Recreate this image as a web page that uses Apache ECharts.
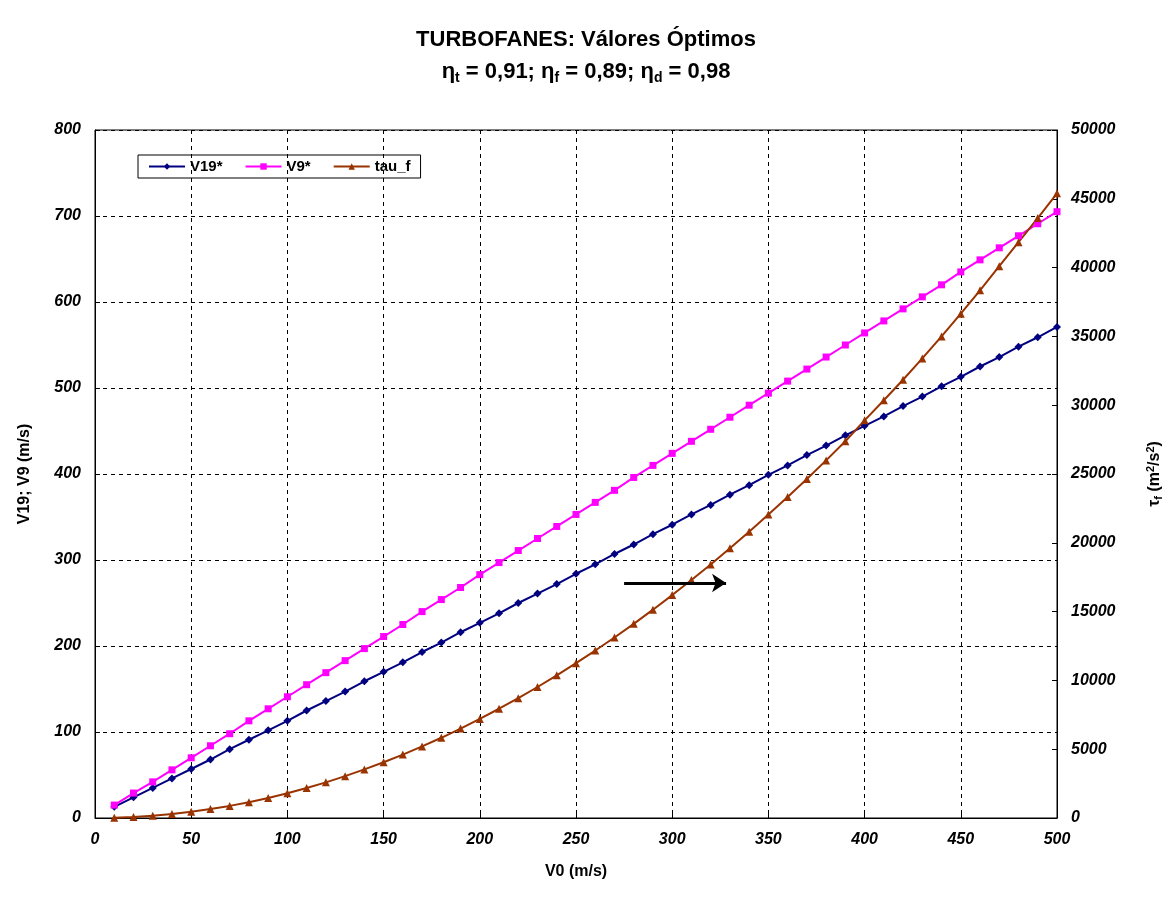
<!DOCTYPE html>
<html lang="es">
<head>
<meta charset="UTF-8">
<title>TURBOFANES</title>
<script src="https://cdn.jsdelivr.net/npm/echarts@6/dist/echarts.min.js"></script>
<style>html,body{margin:0;background:#fff}#main{width:1172px;height:904px}</style>
</head>
<body>
<div id="main"></div>
<script>
var v0 = [10,20,30,40,50,60,70,80,90,100,110,120,130,140,150,160,170,180,190,200,210,220,230,240,250,260,270,280,290,300,310,320,330,340,350,360,370,380,390,400,410,420,430,440,450,460,470,480,490,500];
var v19 = [13,24,35,46,57,68,80,91,102,113,125,136,147,159,170,181,193,204,216,227,238,250,261,272,284,295,307,318,330,341,353,364,376,387,399,410,422,433,445,456,467,479,490,502,513,525,536,548,559,571];
var v9 = [15,29,42,56,70,84,98,113,127,141,155,169,183,197,211,225,240,254,268,283,297,311,325,339,353,367,381,396,410,424,438,452,466,480,494,508,522,536,550,564,578,592,606,620,635,649,663,677,691,705];
var tauF = [20,80,160,290,450,650,880,1150,1460,1800,2180,2590,3040,3530,4050,4610,5200,5830,6500,7200,7940,8710,9520,10370,11250,12170,13120,14110,15140,16200,17300,18430,19600,20810,22050,23330,24640,25990,27380,28900,30360,31850,33400,35000,36650,38350,40100,41850,43600,45400];

function pairs(ys) { return v0.map(function (x, i) { return [x, ys[i]]; }); }

var lbl = { fontFamily: 'Arial', fontWeight: 'bold', fontStyle: 'italic', fontSize: 16, color: '#000', margin: 14 };
var dashed = { show: true, lineStyle: { color: '#000', type: [4, 4], width: 1 } };

var chart = echarts.init(document.getElementById('main'));
chart.setOption({
    animation: false,
    title: {
        left: 'center', top: 24,
        text: 'TURBOFANES: Válores Óptimos',
        subtext: '{a|η}{s|t}{a| = 0,91; η}{s|f}{a| = 0,89; η}{s|d}{a| = 0,98}',
        itemGap: 8,
        textStyle: { fontFamily: 'Arial', fontWeight: 'bold', fontSize: 22, color: '#000' },
        subtextStyle: { rich: {
            a: { fontFamily: 'Arial', fontWeight: 'bold', fontSize: 22, color: '#000' },
            s: { fontFamily: 'Arial', fontWeight: 'bold', fontSize: 14, color: '#000', verticalAlign: 'bottom', padding: [12, 0, 0, 0] }
        } }
    },
    legend: {
        left: 138, top: 155, itemGap: 22, padding: [4, 10],
        borderColor: '#000', borderWidth: 1,
        itemWidth: 36, itemHeight: 8,
        textStyle: { fontFamily: 'Arial', fontWeight: 'bold', fontSize: 15, color: '#000' }
    },
    grid: { left: 95, right: 114, top: 130, bottom: 86, show: true, borderColor: '#000', borderWidth: 1 },
    xAxis: {
        type: 'value', min: 0, max: 500, interval: 50,
        name: 'V0 (m/s)', nameLocation: 'middle', nameGap: 46,
        nameTextStyle: { fontFamily: 'Arial', fontWeight: 'bold', fontSize: 16, color: '#000' },
        axisLine: { lineStyle: { color: '#000' } }, axisTick: { inside: true },
        axisLabel: lbl, splitLine: dashed
    },
    yAxis: [{
        type: 'value', min: 0, max: 800, interval: 100,
        name: 'V19; V9 (m/s)', nameLocation: 'middle', nameGap: 62,
        nameTextStyle: { fontFamily: 'Arial', fontWeight: 'bold', fontSize: 16, color: '#000' },
        axisLine: { show: true, lineStyle: { color: '#000' } }, axisTick: { show: true, inside: true },
        axisLabel: lbl, splitLine: dashed
    }, {
        type: 'value', min: 0, max: 50000, interval: 5000,
        name: '{a|τ}{s|f}{a| (m}{p|2}{a|/s}{p|2}{a|)}', nameLocation: 'middle', nameGap: 88, nameRotate: 90,
        nameTextStyle: { rich: {
            a: { fontFamily: 'Arial', fontWeight: 'bold', fontSize: 16, color: '#000' },
            s: { fontFamily: 'Arial', fontWeight: 'bold', fontSize: 11, color: '#000', padding: [8, 0, 0, 0] },
            p: { fontFamily: 'Arial', fontWeight: 'bold', fontSize: 11, color: '#000', padding: [0, 0, 8, 0] }
        } },
        axisLine: { show: true, lineStyle: { color: '#000' } }, axisTick: { show: true, inside: true },
        axisLabel: Object.assign({}, lbl, { formatter: function (v) { return String(v); } }),
        splitLine: { show: false }
    }],
    series: [{
        name: 'V19*', type: 'line', data: pairs(v19), color: '#000080',
        symbol: 'diamond', symbolSize: 8, lineStyle: { width: 2 }
    }, {
        name: 'V9*', type: 'line', data: pairs(v9), color: '#ff00ff',
        symbol: 'rect', symbolSize: 7, lineStyle: { width: 2 }
    }, {
        name: 'tau_f', type: 'line', yAxisIndex: 1, data: pairs(tauF), color: '#993300',
        symbol: 'triangle', symbolSize: 8, lineStyle: { width: 2 },
        markLine: {
            silent: true, symbol: ['none', 'arrow'], symbolSize: 14, label: { show: false },
            lineStyle: { color: '#000', width: 3, type: 'solid' },
            data: [[{ coord: [275, 17080] }, { coord: [328, 17080] }]]
        }
    }]
});
</script>
</body>
</html>
